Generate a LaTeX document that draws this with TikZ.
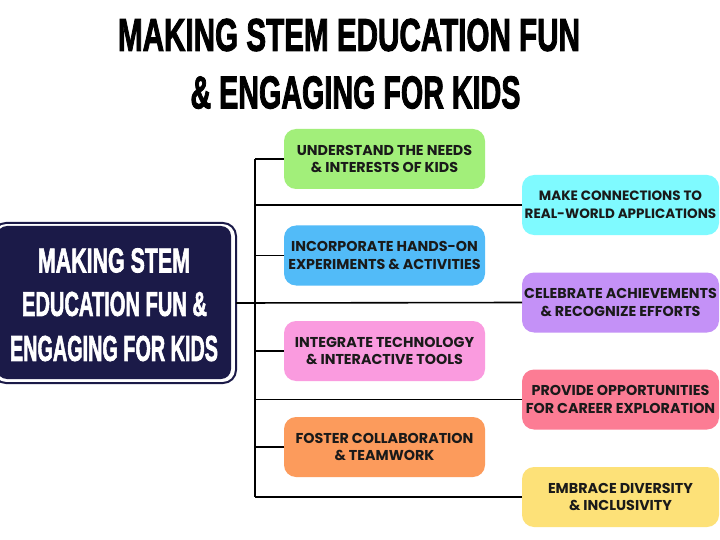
\documentclass[tikz,border=0pt]{standalone}
\usepackage{fontspec}
\setmainfont{Poppins}
\newfontfamily\headfont[FakeBold=2.5]{Liberation Sans Bold}
\definecolor{navy}{HTML}{1B1A48}
\definecolor{cgreen}{HTML}{A2EF7A}
\definecolor{ccyan}{HTML}{7FFAFF}
\definecolor{cblue}{HTML}{52BBF8}
\definecolor{cpurple}{HTML}{C491F7}
\definecolor{cpink}{HTML}{FA9BDF}
\definecolor{cred}{HTML}{FC7C94}
\definecolor{corange}{HTML}{FC9B5C}
\definecolor{cyellow}{HTML}{FDE178}
\definecolor{txt}{HTML}{1A1A1A}
\begin{document}
\begin{tikzpicture}[x=1pt,y=-1pt,
  topic/.style={rounded corners=12, minimum height=60, inner sep=0, outer sep=0,
    align=center, text=txt, font=\bfseries\fontsize{14.3}{17.8}\selectfont},
  leftbox/.style={topic, minimum width=201},
  rightbox/.style={topic, minimum width=197},
  link/.style={line width=1.6, black},
  headline/.style={inner sep=0, outer sep=0, text=black}]
\useasboundingbox[fill=white] (0,0) rectangle (720,540);

% title
\node[headline] (t1) at (349,35) {\resizebox{462pt}{32pt}{\headfont MAKING STEM EDUCATION FUN}};
\node[headline] (t2) at (355.5,92.5) {\resizebox{330pt}{32pt}{\headfont \& ENGAGING FOR KIDS}};

% central box
\node[draw=navy, line width=2, rounded corners=13, minimum width=243, minimum height=160, inner sep=0, outer sep=0] (cframe) at (114.5,303) {};
\node[fill=navy, rounded corners=10, minimum width=234, minimum height=153, inner sep=0, outer sep=0] (c) at (114,302.5) {};
\node[headline, text=white] (c1) at (114,260.5) {\resizebox{152pt}{24pt}{\headfont MAKING STEM}};
\node[headline, text=white] (c2) at (114.5,304) {\resizebox{185pt}{24pt}{\headfont EDUCATION FUN \&}};
\node[headline, text=white] (c3) at (114,348.5) {\resizebox{208pt}{25pt}{\headfont ENGAGING FOR KIDS}};

% topic boxes
\node[leftbox, fill=cgreen] (b1) at (384.5,159) {UNDERSTAND THE NEEDS\\\& INTERESTS OF KIDS};
\node[leftbox, fill=cblue] (b3) at (384.5,255.5) {INCORPORATE HANDS-ON\\EXPERIMENTS \& ACTIVITIES};
\node[leftbox, fill=cpink] (b5) at (384.5,351) {INTEGRATE TECHNOLOGY\\\& INTERACTIVE TOOLS};
\node[leftbox, fill=corange] (b7) at (384.5,447) {FOSTER COLLABORATION\\\& TEAMWORK};
\node[rightbox, fill=ccyan, font=\bfseries\fontsize{13.5}{17.8}\selectfont] (b2) at (620.5,205) {MAKE CONNECTIONS TO\\REAL-WORLD APPLICATIONS};
\node[rightbox, fill=cpurple] (b4) at (620.5,302.5) {CELEBRATE ACHIEVEMENTS\\\& RECOGNIZE EFFORTS};
\node[rightbox, fill=cred] (b6) at (620.5,399.5) {PROVIDE OPPORTUNITIES\\FOR CAREER EXPLORATION};
\node[rightbox, fill=cyellow] (b8) at (620.5,497) {EMBRACE DIVERSITY\\\& INCLUSIVITY};

% connectors
\coordinate (jt) at (255,159);
\coordinate (jb) at (255,497);
\draw[link] (jt) -- (jb);
\draw[link] (cframe.east) -- (b4.west);
\foreach \b in {b1,b2,b3,b5,b6,b7,b8}
  \draw[link] (\b.west) -- (\b.west -| jt);
\end{tikzpicture}
\end{document}
